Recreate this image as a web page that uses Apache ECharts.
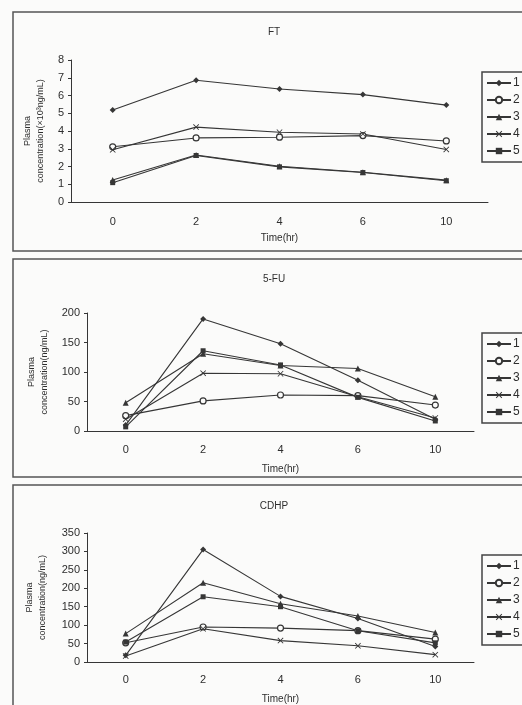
<!DOCTYPE html>
<html>
<head>
<meta charset="utf-8">
<script src="https://cdn.jsdelivr.net/npm/echarts@6/dist/echarts.min.js"></script>
<style>
html,body{margin:0;padding:0;background:#fbfbfa;}
#c{width:522px;height:705px;}
</style>
</head>
<body>
<div id="c"></div>
<script>
// ---- data ----
const categories = ['0', '2', '4', '6', '10'];
const seriesNames = ['1', '2', '3', '4', '5'];
const panelTitles = ['FT', '5-FU', 'CDHP'];
const yNames = ['Plasma\nconcentration(\u00d710\u00b3ng/mL)', 'Plasma\nconcentration(ng/mL)', 'Plasma\nconcentration(ng/mL)'];
const xName = 'Time(hr)';

// FT (x10^3 ng/mL)
const ft1 = [5.18, 6.86, 6.37, 6.05, 5.46];
const ft2 = [3.11, 3.61, 3.65, 3.74, 3.44];
const ft3 = [1.24, 2.65, 2.01, 1.68, 1.23];
const ft4 = [2.94, 4.22, 3.93, 3.83, 2.96];
const ft5 = [1.09, 2.62, 1.98, 1.66, 1.2];

// 5-FU (ng/mL)
const fu1 = [10, 190, 148, 86, 20];
const fu2 = [26, 51, 61, 60, 44];
const fu3 = [48, 131, 111, 106, 58];
const fu4 = [20, 98, 97, 58, 22];
const fu5 = [7, 136, 112, 57, 17];

// CDHP (ng/mL)
const cd1 = [18, 305, 178, 118, 42];
const cd2 = [52, 95, 92, 85, 62];
const cd3 = [77, 215, 158, 125, 80];
const cd4 = [16, 90, 58, 44, 20];
const cd5 = [54, 177, 150, 85, 52];

const yMax = [8, 200, 350];
const yInterval = [1, 50, 50];

// ---- styling ----
const ink = '#363636';
const bg = '#fbfbfa';
const txt = '#2e2e2e';
const font = 'Liberation Sans, Arial, sans-serif';
const xPath = 'path://M0,1L1,0L5,4L9,0L10,1L6,5L10,9L9,10L5,6L1,10L0,9L4,5Z';
const symbols = ['diamond', 'circle', 'triangle', xPath, 'rect'];
const symSizes = [6, 6, 6, 6, 5];

const panelData = [[ft1, ft2, ft3, ft4, ft5], [fu1, fu2, fu3, fu4, fu5], [cd1, cd2, cd3, cd4, cd5]];

const grids = [
  {left: 71, top: 60, width: 417, height: 142},
  {left: 87, top: 313, width: 387, height: 118},
  {left: 87, top: 533, width: 387, height: 130}
];
const titleTops = [22, 269, 496];
const labelMargins = [14, 13, 12];
const nameGapsX = [31, 33, 32];
const nameGapsY = [20, 35, 38];
const legendTops = [72, 333, 555];
const panelRects = [[13, 12, 600, 239], [13, 259, 600, 218], [13, 485, 600, 260]];

const chart = echarts.init(document.getElementById('c'), null, {renderer: 'canvas'});

const option = {
  backgroundColor: bg,
  animation: false,
  color: [ink, ink, ink, ink, ink],
  title: panelTitles.map((t, i) => ({
    text: t, left: 269, top: titleTops[i], textAlign: 'center',
    textStyle: {fontSize: 10, fontWeight: 'normal', color: txt, fontFamily: font}
  })),
  grid: grids.map(g => Object.assign({containLabel: false}, g)),
  xAxis: grids.map((g, i) => ({
    type: 'category', gridIndex: i, data: categories, boundaryGap: true,
    name: xName, nameLocation: 'middle', nameGap: nameGapsX[i],
    nameTextStyle: {fontSize: 10, color: txt, fontFamily: font},
    axisLine: {lineStyle: {color: ink, width: 1}},
    axisTick: {inside: true, length: 3, alignWithLabel: false, lineStyle: {color: ink}},
    axisLabel: {fontSize: 11, color: txt, margin: labelMargins[i], fontFamily: font},
    splitLine: {show: false}
  })),
  yAxis: grids.map((g, i) => ({
    type: 'value', gridIndex: i, min: 0, max: yMax[i], interval: yInterval[i],
    name: yNames[i], nameLocation: 'middle', nameRotate: 90, nameGap: nameGapsY[i],
    nameTextStyle: {fontSize: 9, color: txt, lineHeight: 13, fontFamily: font},
    axisLine: {show: true, lineStyle: {color: ink, width: 1}},
    axisTick: {show: true, inside: false, length: 3, lineStyle: {color: ink}},
    axisLabel: {fontSize: 11, color: txt, margin: 7, fontFamily: font},
    splitLine: {show: false}
  })),
  legend: grids.map((g, i) => ({
    orient: 'vertical', left: 482, top: legendTops[i],
    data: seriesNames,
    itemWidth: 24, itemHeight: 8, itemGap: 5,
    padding: [5, 8, 5, 4],
    borderColor: '#444', borderWidth: 1.5,
    selectedMode: false,
    textStyle: {fontSize: 12, color: txt, fontFamily: font, padding: [0, 0, 0, -3]}
  })),
  graphic: panelRects.map(r => ({
    type: 'rect', silent: true, z: -1,
    shape: {x: r[0], y: r[1], width: r[2], height: r[3]},
    style: {fill: 'none', stroke: '#555', lineWidth: 1.5}
  })),
  series: []
};

panelData.forEach((arrs, p) => {
  arrs.forEach((vals, k) => {
    option.series.push({
      type: 'line', name: seriesNames[k],
      xAxisIndex: p, yAxisIndex: p,
      data: vals,
      symbol: symbols[k], symbolSize: symSizes[k], showSymbol: true,
      lineStyle: {color: ink, width: 1.1},
      itemStyle: k === 1 ? {color: bg, borderColor: ink, borderWidth: 1.2} : {color: ink},
      emphasis: {disabled: true}
    });
  });
});

chart.setOption(option);
</script>
</body>
</html>
